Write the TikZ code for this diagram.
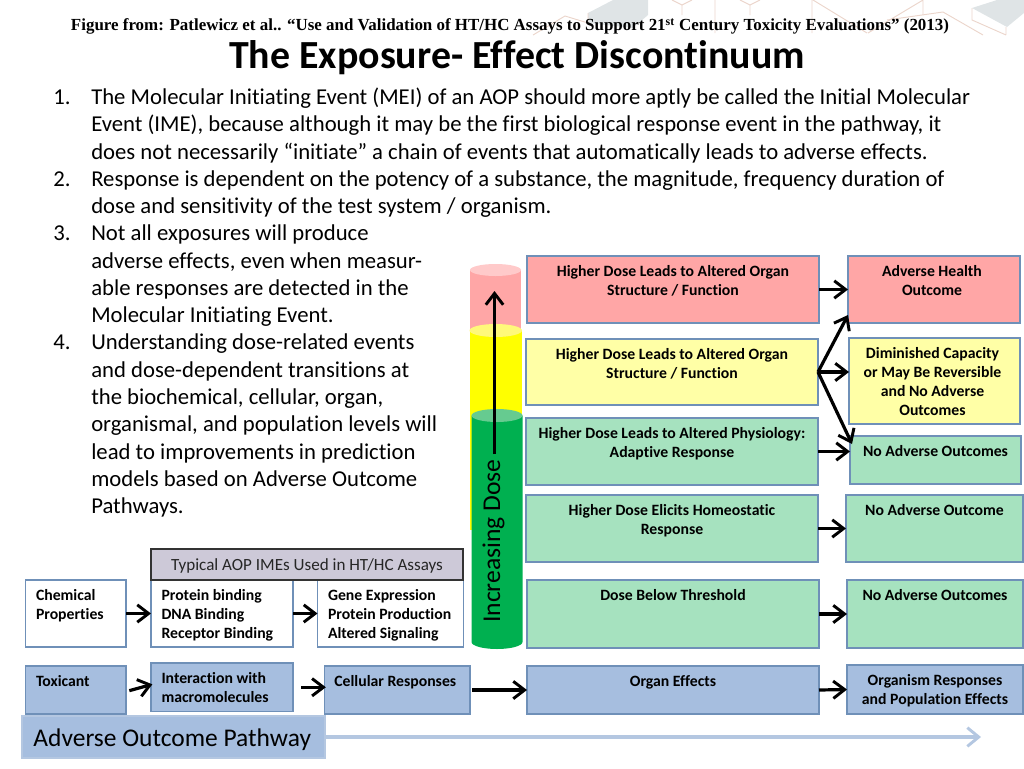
\documentclass[tikz,border=0pt]{standalone}
\usepackage{fontspec}
\setmainfont{Carlito}[Ligatures=NoCommon]
\newfontfamily\capfont{Liberation Serif}
\usetikzlibrary{arrows.meta,calc}
\newdimen\pxu \pxu=0.75pt
\definecolor{pinkbox}{HTML}{FFA6A6}
\definecolor{yelbox}{HTML}{FFFFA6}
\definecolor{grnbox}{HTML}{A6E2BF}
\definecolor{blubox}{HTML}{A6BEDF}
\definecolor{bordr}{HTML}{6F90B8}
\definecolor{typbox}{HTML}{CDC9D8}
\definecolor{aopline}{HTML}{B4C7E1}
\definecolor{hexline}{HTML}{EBD5CB}
\definecolor{hexfill}{HTML}{DFE4E6}
\definecolor{grncyl}{HTML}{00B050}
\definecolor{grncyltop}{HTML}{66CB90}
\definecolor{pinktop}{HTML}{FFCACA}
\definecolor{yelcyl}{HTML}{FFFF00}
\definecolor{yeltop}{HTML}{FFF97A}
\tikzset{
  bx/.style={draw=bordr,line width=1pt,inner sep=0pt,outer sep=0pt},
  link/.style={draw=black,line width=2.4pt,-{Straight Barb[length=8.5pt,width=13pt,line width=2.2pt]}},
  bodytxt/.style={anchor=north west,inner sep=0pt,align=left,font=\fontsize{17.03pt}{20.5pt}\selectfont},
  hexl/.style={draw=hexline,line width=0.7pt},
}
% \bxn{name}{x1}{y1}{x2}{y2}{fill}{alignment+text}
\newcommand\bxn[7]{%
  \pgfmathsetmacro\bw{#4-#2}\pgfmathsetmacro\bh{#5-#3}%
  \node[bx,fill=#6] (#1) at ({(#2+#4)/2},{(#3+#5)/2}) {\parbox[c][\bh\pxu][t]{\bw\pxu}{%
    \fontsize{11.8pt}{14.25pt}\selectfont\bfseries\vspace*{5.7pt}#7}};}
\newcommand\cen{\centering\strut}
\newcommand\cenl{\centering\advance\rightskip by 4\pxu\strut}
\newcommand\lft[1]{\raggedright\leftskip=#1\pxu\strut}
\begin{document}
\begin{tikzpicture}[x=0.75pt,y=-0.75pt]
\useasboundingbox (0,0) rectangle (1024,768);
% background hexagon pattern
\fill[hexfill] (588,13) -- (613,0) -- (648,0) -- (648,15) -- (633,28) -- (588,23) -- cycle;
\fill[hexfill] (972,8) -- (997,0) -- (1024,0) -- (1024,13) -- (1007,27) -- cycle;
\draw[hexl] (533,35) -- (565,16) -- (588,23) (588,13) -- (588,23);
\draw[hexl] (672,0) -- (682,5) -- (692,0) (682,5) -- (682,15);
\draw[hexl] (715,0) -- (715,33) (740,0) -- (750,5) -- (760,0) (750,5) -- (750,15);
\draw[hexl] (812,0) -- (812,33) (813,0) -- (867,33) (923,0) -- (868,33) (923,0) -- (923,15);
\draw[hexl] (887,20) -- (943,12) -- (983,35);
\draw[hexl] (972,8) -- (972,20) -- (1006,35) (1006,27) -- (1006,35);
% caption and title
\node[inner sep=0pt,anchor=center,font=\capfont\bfseries\fontsize{12.7pt}{14pt}\selectfont] (cap) at (510,26.5)
  {Figure from: Patlewicz et al.. “Use and Validation of HT/HC Assays to Support 21\textsuperscript{st} Century Toxicity Evaluations” (2013)};
\node[inner sep=0pt,font=\bfseries\fontsize{29.9pt}{36pt}\selectfont] (title) at (517,58) {The Exposure- Effect Discontinuum};
% numbered list
\node[bodytxt] (n1) at (53,85) {\strut 1.};
\node[bodytxt] (t1) at (91,85) {\strut The Molecular Initiating Event (MEI) of an AOP should more aptly be called the Initial Molecular\\Event (IME), because although it may be the first biological response event in the pathway, it\\does not necessarily “initiate” a chain of events that automatically leads to adverse effects.};
\node[bodytxt] (n2) at (53,167) {\strut 2.};
\node[bodytxt] (t2) at (91,167) {\strut Response is dependent on the potency of a substance, the magnitude, frequency duration of\\dose and sensitivity of the test system / organism.};
\node[bodytxt] (n3) at (53,221.5) {\strut 3.};
\node[bodytxt] (t3) at (91,221.5) {\strut Not all exposures will produce\\adverse effects, even when measur-\\able responses are detected in the\\Molecular Initiating Event.};
\node[bodytxt] (n4) at (53,330.5) {\strut 4.};
\node[bodytxt] (t4) at (91,330.5) {\strut Understanding dose-related events\\and dose-dependent transitions at\\the biochemical, cellular, organ,\\organismal, and population levels will\\lead to improvements in prediction\\models based on Adverse Outcome\\Pathways.};
% dose cylinder
\fill[pinkbox] (470,270) -- (521,270) -- (521,335) -- (470,335) -- cycle;
\fill[pinktop] (495.5,270) ellipse[x radius=25.5,y radius=6];
\fill[yelcyl] (469.5,330.5) -- (522,330.5) -- (522,530) -- (469.5,530) -- cycle;
\fill[yeltop] (495.75,330.5) ellipse[x radius=26.25,y radius=6.5];
\fill[grncyl] (471.5,415.5) -- (522.5,415.5) -- (522.5,642) arc[start angle=0,end angle=180,x radius=25.5,y radius=7] -- cycle;
\fill[grncyltop] (497,415.5) ellipse[x radius=25.5,y radius=6.5];
\coordinate (doseS) at (494.5,454);
\coordinate (doseE) at (494.5,291);
\draw[link] (doseS) -- (doseE);
\node[rotate=90,inner sep=0pt,font=\fontsize{19.2pt}{20pt}\selectfont] (dose) at (493.5,541) {Increasing Dose};
% response rows
\bxn{r1}{527}{256}{819}{323}{pinkbox}{\cen Higher Dose Leads to Altered Organ\\\strut Structure / Function}
\bxn{o1}{848}{256}{1020}{323}{pinkbox}{\cenl Adverse Health\\\strut Outcome}
\bxn{r2}{526}{339}{818}{405}{yelbox}{\cen Higher Dose Leads to Altered Organ\\\strut Structure / Function}
\bxn{o2}{849}{338}{1020}{424}{yelbox}{\cenl Diminished Capacity\\\strut or May Be Reversible\\\strut and No Adverse\\\strut Outcomes}
\bxn{r3}{526}{418}{818}{485}{grnbox}{\cen Higher Dose Leads to Altered Physiology:\\\strut Adaptive Response}
\bxn{o3}{850}{436}{1021}{484}{grnbox}{\cen No Adverse Outcomes}
\bxn{r4}{526}{495}{818}{562}{grnbox}{\cen Higher Dose Elicits Homeostatic\\\strut Response}
\bxn{o4}{846}{495}{1023}{562}{grnbox}{\cen No Adverse Outcome}
\bxn{r5}{527}{580}{819}{648}{grnbox}{\cen Dose Below Threshold}
\bxn{o5}{847}{580}{1023}{648}{grnbox}{\cen No Adverse Outcomes}
% AOP row
\bxn{chem}{25.5}{580}{126}{647}{white}{\lft{10.5}Chemical\\\strut Properties}
\bxn{prot}{151}{580}{293}{647}{white}{\lft{10.5}Protein binding\\\strut DNA Binding\\\strut Receptor Binding}
\bxn{gene}{317.5}{580}{463.5}{647}{white}{\lft{10.5}Gene Expression\\\strut Protein Production\\\strut Altered Signaling}
\node[draw=black!80,line width=1pt,fill=typbox,inner sep=0pt,minimum width=312\pxu,minimum height=31\pxu,text=black!85,font=\fontsize{12.8pt}{14pt}\selectfont] (typ) at (307,564.5) {\raisebox{0pt}[9.4pt][0pt]{Typical AOP IMEs Used in HT/HC Assays}};
\bxn{tox}{25.5}{666}{126}{714}{blubox}{\lft{10.5}Toxicant}
\bxn{inter}{151}{663}{293}{711.5}{blubox}{\lft{10.5}Interaction with\\\strut macromolecules}
\bxn{cell}{324.5}{666}{470}{714}{blubox}{\cenl Cellular Responses}
\bxn{organ}{527}{666}{819}{714}{blubox}{\cen Organ Effects}
\bxn{orgm}{847}{665}{1023}{714}{blubox}{\cen Organism Responses\\\strut and Population Effects}
\node[draw=aopline,line width=1pt,fill=blubox,inner sep=0pt,minimum width=303\pxu,minimum height=42\pxu,font=\fontsize{19.1pt}{20pt}\selectfont] (aop) at (173.5,737) {\raisebox{0pt}[13.5pt][0pt]{\hspace*{-2.5\pxu}Adverse Outcome Pathway}};
\coordinate (aopEnd) at (981,737);
\draw[aopline,line width=2.4pt,-{Straight Barb[length=8.5pt,width=14pt,line width=2.2pt]}] (aop.east) -- (aopEnd);
% connectors
\draw[link] (r1.east) -- (o1.west);
\draw[link] (r2.east) -- (r2.east -| o2.west);
\draw[link] (r2.east) -- ([yshift=6pt]o1.south west);
\draw[link] (r2.east) -- ([xshift=1.5pt,yshift=-6pt]o3.north west);
\draw[link] (r3.east) -- (r3.east -| o3.west);
\draw[link] (r4.east) -- (o4.west);
\draw[link] (r5.east) -- (o5.west);
\draw[link] (chem.east) -- (prot.west);
\draw[link] (prot.east) -- (gene.west);
\draw[link] ([xshift=2.5pt,yshift=-0.5pt]tox.east) -- ([xshift=1pt,yshift=2.2pt]inter.west);
\draw[link] ([xshift=6pt,yshift=0pt]inter.east) -- ([xshift=1pt]inter.east -| cell.west);
\draw[link] ([xshift=1.5pt]cell.east) -- (organ.west);
\draw[link] (organ.east) -- (orgm.west);
\end{tikzpicture}
\end{document}
